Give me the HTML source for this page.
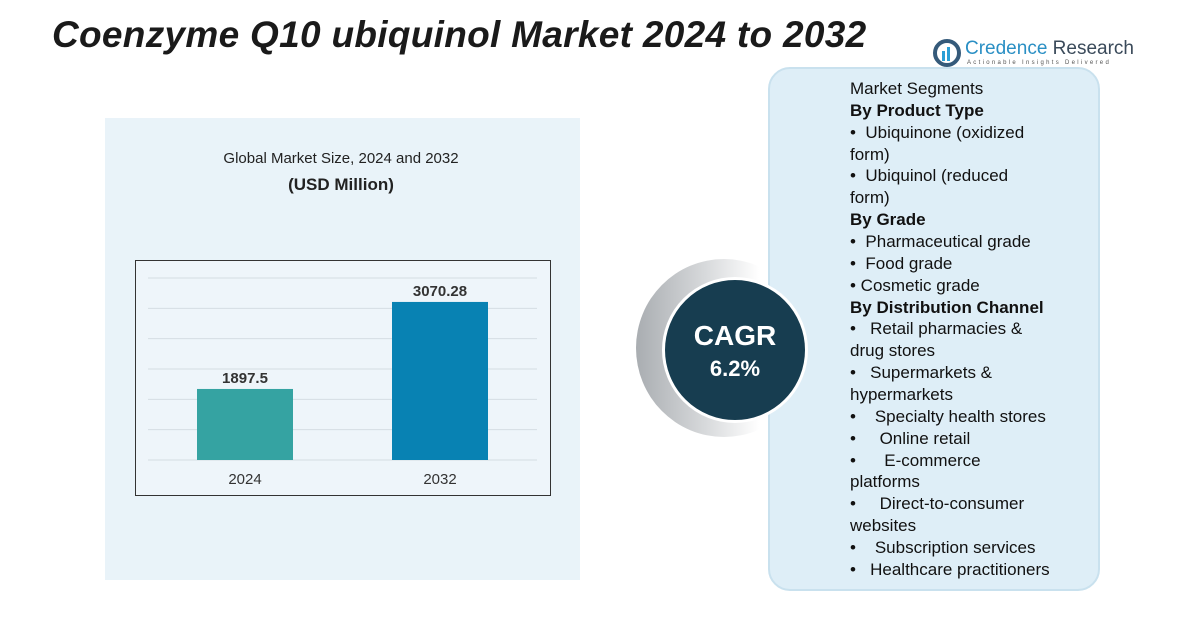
<!DOCTYPE html>
<html><head><meta charset="utf-8">
<style>
body{margin:0;width:1203px;height:625px;background:#fff;position:relative;overflow:hidden;font-family:"Liberation Sans",sans-serif;}
.abs{position:absolute;}
.seg{position:absolute;left:850px;font-size:17px;color:#111;white-space:pre;line-height:20px;}
.b{font-weight:bold;}
</style></head><body>
<div class="abs" style="left:52px;top:14px;font-size:37px;font-weight:bold;font-style:italic;color:#1a1a1a;letter-spacing:0.3px;">Coenzyme Q10 ubiquinol Market 2024 to 2032</div>
<div class="abs" style="left:933px;top:38px;">
  <svg width="30" height="30" style="position:absolute;left:0;top:0"><circle cx="14" cy="15" r="12" fill="none" stroke="#355a7a" stroke-width="4"/><rect x="9" y="13" width="3" height="10" fill="#2a9fd6"/><rect x="14" y="9" width="3" height="14" fill="#2a9fd6"/></svg>
  <div style="position:absolute;left:32px;top:0;font-size:19px;color:#2a8fc4;white-space:nowrap;">Credence <span style="color:#3a4a5a">Research</span></div>
  <div style="position:absolute;left:34px;top:22px;font-size:6px;letter-spacing:2.3px;color:#555;white-space:nowrap;">Actionable Insights Delivered</div>
</div>
<div class="abs" style="left:105px;top:118px;width:475px;height:462px;background:#e9f3f9;"></div>
<div class="abs" style="left:141px;top:150px;width:400px;text-align:center;font-size:15px;color:#222;">Global Market Size, 2024 and 2032</div>
<div class="abs" style="left:141px;top:175px;width:400px;text-align:center;font-size:17px;font-weight:bold;color:#222;">(USD Million)</div>
<svg class="abs" style="left:0;top:0" width="1203" height="625" id="chart">
  <rect x="135.5" y="260.5" width="415" height="235" fill="#eef5fa" stroke="#333" stroke-width="1"/>
</svg>
<div class="abs" style="left:768px;top:67px;width:332px;height:524px;border-radius:22px;background:#deeef7;border:2px solid #c9e1ee;box-sizing:border-box;"></div>
<div class="abs" style="left:636px;top:259px;width:176px;height:178px;border-radius:50%;background:linear-gradient(90deg,#a9adb1 0%,#d8dadc 40%,rgba(255,255,255,0) 70%);"></div>
<div class="abs" style="left:662px;top:277px;width:140px;height:140px;border-radius:50%;background:#173d50;border:3px solid #fff;color:#fff;text-align:center;">
  <div style="margin-top:40px;font-size:28px;font-weight:bold;">CAGR</div>
  <div style="font-size:22px;font-weight:bold;margin-top:4px;">6.2%</div>
</div>
<div id="segs"></div>
<script>
const categories=["2024","2032"];
const values=[1897.5,3070.28];
const labels=["1897.5","3070.28"];
const colors=["#35a3a2","#0882b3"];
const NS="http://www.w3.org/2000/svg";
const svg=document.getElementById('chart');
const y0=460,yTop=278,vMin=940,vMax=3393;
function y(v){return y0-(v-vMin)/(vMax-vMin)*(y0-yTop);}
function x(i){return 197+i*195;}
for(let k=0;k<7;k++){const gy=y0-k*(y0-yTop)/6;const l=document.createElementNS(NS,'line');


l.setAttribute('x1',148);l.setAttribute('x2',537);l.setAttribute('y1',gy);l.setAttribute('y2',gy);l.setAttribute('stroke','#d4dde3');l.setAttribute('stroke-width',1);svg.appendChild(l);}
categories.forEach((c,i)=>{
const r=document.createElementNS(NS,'rect');


r.setAttribute('x',x(i));r.setAttribute('width',96);r.setAttribute('y',y(values[i]));r.setAttribute('height',y0-y(values[i]));r.setAttribute('fill',colors[i]);svg.appendChild(r);
const t=document.createElementNS(NS,'text');


t.setAttribute('x',x(i)+48);t.setAttribute('y',y(values[i])-6);t.setAttribute('text-anchor','middle');t.setAttribute('font-size','15');t.setAttribute('font-weight','bold');t.setAttribute('fill','#333');t.textContent=labels[i];svg.appendChild(t);
const a=document.createElementNS(NS,'text');


a.setAttribute('x',x(i)+48);a.setAttribute('y',484);a.setAttribute('text-anchor','middle');a.setAttribute('font-size','15');a.setAttribute('fill','#333');a.textContent=c;svg.appendChild(a);
});
const lines=[["Market Segments",0],["By Product Type",1],["•  Ubiquinone (oxidized",0],["form)",0],["•  Ubiquinol (reduced",0],["form)",0],["By Grade",1],["•  Pharmaceutical grade",0],["•  Food grade",0],["• Cosmetic grade",0],["By Distribution Channel",1],["•   Retail pharmacies &",0],["drug stores",0],["•   Supermarkets &",0],["hypermarkets",0],["•    Specialty health stores",0],["•     Online retail",0],["•      E-commerce",0],["platforms",0],["•     Direct-to-consumer",0],["websites",0],["•    Subscription services",0],["•   Healthcare practitioners",0]];
const host=document.getElementById('segs');
lines.forEach((l,i)=>{const d=document.createElement('div');


d.className='seg'+(l[1]?' b':'');d.style.top=(79+i*21.86)+'px';d.textContent=l[0];host.appendChild(d);});
</script>
</body></html>
